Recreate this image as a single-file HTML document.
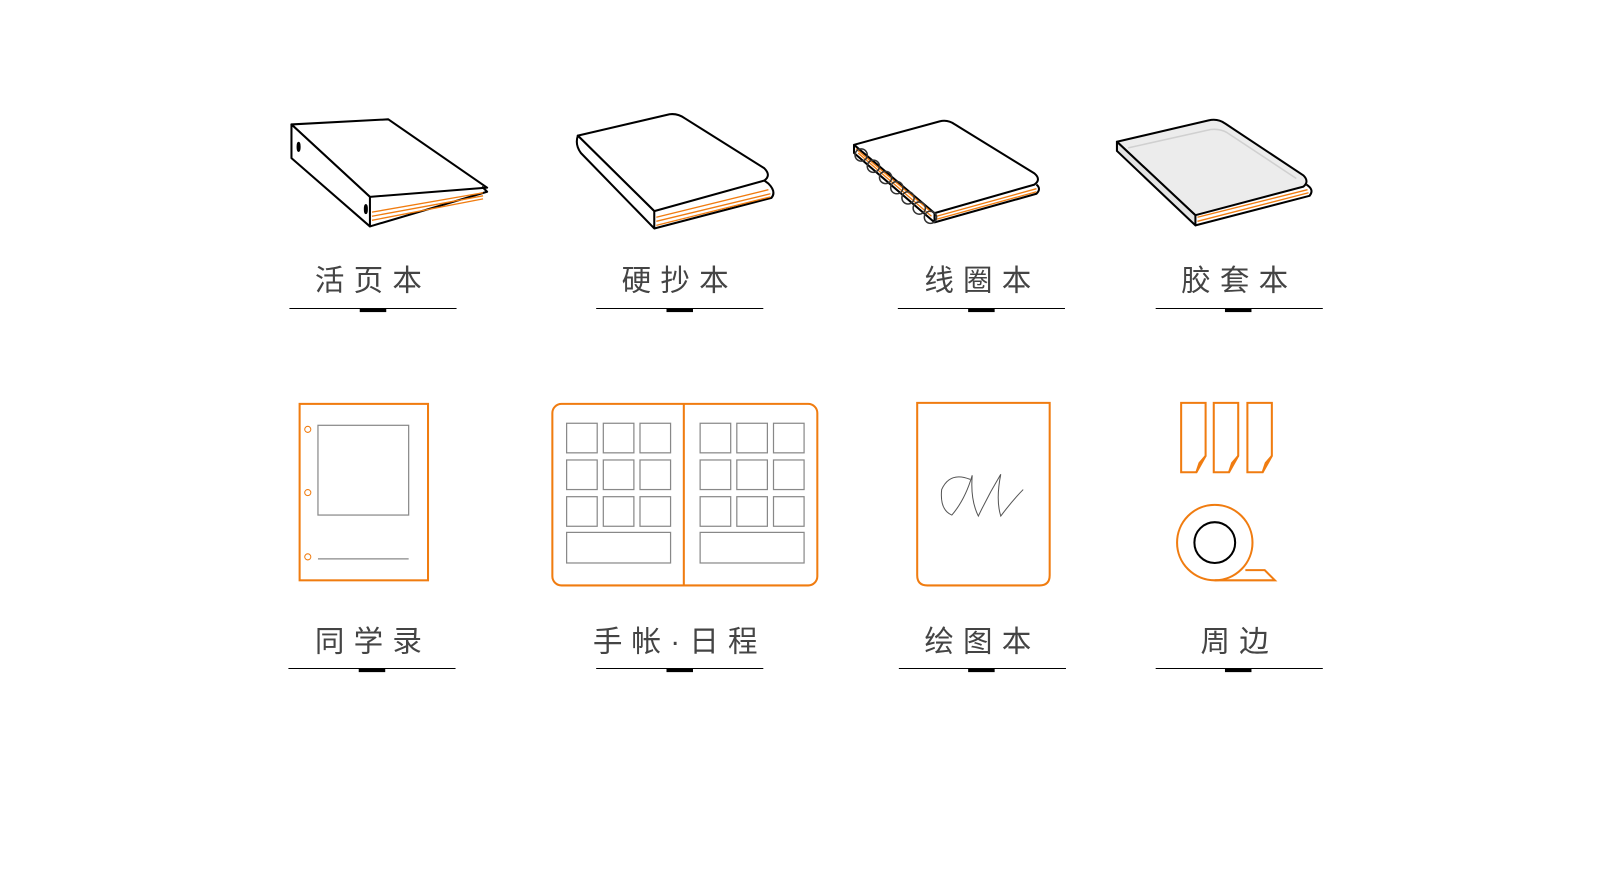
<!DOCTYPE html>
<html><head><meta charset="utf-8"><style>
body{margin:0;background:#fff;width:1600px;height:871px;overflow:hidden}
svg{position:absolute;left:0;top:0}
text{font-family:"Liberation Sans","Noto Sans CJK SC",sans-serif;font-size:29px;fill:#444;letter-spacing:9px}
</style></head><body>
<svg width="1600" height="871" viewBox="-2 0 1570 854" preserveAspectRatio="none">
<g fill="none" stroke="#000" stroke-width="2" stroke-linejoin="round">
<polygon points="284,122 379,117 476,184 361,193" fill="#fff"/>
<polygon points="284,122 361,193 361,222 284,155" fill="#fff"/>
<path d="M361,222 L476,188 L471,183"/>
<ellipse cx="291" cy="144" rx="1" ry="4" fill="#000"/>
<ellipse cx="357" cy="205" rx="1" ry="4" fill="#000"/>
<g stroke="#f07c10" stroke-width="1.3"><path d="M363,208 L472,189 M363,212 L472,192 M363,216 L472,195"/></g>
<path d="M565,133 L655,112 Q663,111 670,116 L748,165 Q755,172 748,177 L640,207 Z" fill="#fff"/>
<path d="M565,133 Q562,142 568,150 L640,224 L640,207 Z" fill="#fff"/>
<path d="M640,224 L755,194 Q760,188 752,180 L748,177"/>
<g stroke="#f07c10" stroke-width="1.3"><path d="M642,213 L752,186 M642,217 L754,190 M642,221 L754,193"/></g>
<path d="M836,142 L920,119 Q928,117 935,122 L1013,170 Q1020,176 1013,181 L915,209 Z" fill="#fff"/>
<path d="M915,209 L915,218 L1015,190 Q1020,185 1015,181"/>
<path d="M836,142 L836,150 L915,218"/>
<g stroke="#f07c10" stroke-width="1.3"><path d="M917,212 L1015,185 M917,215 L1015,188 M840,150 L912,212 M838,146 L912,208"/></g>
<g stroke="#333" stroke-width="1.5"><circle cx="843" cy="152" r="6"/><circle cx="855" cy="163" r="6"/><circle cx="867" cy="174" r="6"/><circle cx="878" cy="184" r="6"/><circle cx="889" cy="194" r="6"/><circle cx="900" cy="204" r="6"/><circle cx="911" cy="213" r="6"/></g>
<path d="M1094,139 L1184,118 Q1193,116 1200,121 L1277,172 Q1283,178 1277,183 L1171,211 Z" fill="#ececec"/>
<path d="M1094,139 L1094,148 L1171,221 L1171,211 Z" fill="#e4e4e4"/>
<path d="M1171,221 L1283,192 Q1288,186 1280,181"/>
<path d="M1105,145 L1186,127 Q1195,126 1202,130 L1270,175" stroke="#d0d0d0" stroke-width="1.5"/>
<g stroke="#f07c10" stroke-width="1.3"><path d="M1173,213 L1281,186 M1173,217 L1282,189"/></g>
</g>
<g fill="none" stroke="#f07c10" stroke-width="2">
<rect x="292" y="396" width="126" height="173"/>
<circle cx="300" cy="421" r="3" stroke-width="1"/><circle cx="300" cy="483" r="3" stroke-width="1"/><circle cx="300" cy="546" r="3" stroke-width="1"/>
<rect x="540" y="396" width="260" height="178" rx="9"/>
<line x1="669" y1="396" x2="669" y2="574"/>
<path d="M898,395 L1028,395 L1028,564 Q1028,574 1018,574 L908,574 Q898,574 898,564 Z"/>
<path d="M1157,395 h24 v52 l-9,16 h-15 Z M1189,395 h24 v52 l-9,16 h-15 Z M1222,395 h24 v52 l-9,16 h-15 Z"/>
<path d="M1172,463 l3,-9 l6,-7 M1204,463 l3,-9 l6,-7 M1237,463 l3,-9 l6,-7"/>
<circle cx="1190" cy="532" r="37"/>
<path d="M1190,569 L1249,569 L1239,559 L1220,559"/>
</g>
<g fill="none" stroke="#888" stroke-width="1.2">
<rect x="310" y="417" width="89" height="88"/>
<line x1="310" y1="548" x2="399" y2="548"/>
<rect x="554" y="415" width="30" height="29"/><rect x="590" y="415" width="30" height="29"/><rect x="626" y="415" width="30" height="29"/>
<rect x="554" y="451" width="30" height="29"/><rect x="590" y="451" width="30" height="29"/><rect x="626" y="451" width="30" height="29"/>
<rect x="554" y="487" width="30" height="29"/><rect x="590" y="487" width="30" height="29"/><rect x="626" y="487" width="30" height="29"/>
<rect x="554" y="522" width="102" height="30"/>
<rect x="685" y="415" width="30" height="29"/><rect x="721" y="415" width="30" height="29"/><rect x="757" y="415" width="30" height="29"/>
<rect x="685" y="451" width="30" height="29"/><rect x="721" y="451" width="30" height="29"/><rect x="757" y="451" width="30" height="29"/>
<rect x="685" y="487" width="30" height="29"/><rect x="721" y="487" width="30" height="29"/><rect x="757" y="487" width="30" height="29"/>
<rect x="685" y="522" width="102" height="30"/>
<path d="M950,470 Q930,462 922,480 Q920,500 932,505 Q945,490 952,466 Q950,490 958,506 Q968,485 980,465 Q975,490 980,506 Q992,490 1002,480" stroke="#555" stroke-width="1"/>
</g>
<circle cx="1190" cy="532" r="20" fill="none" stroke="#000" stroke-width="2"/>
<text x="364" y="285" text-anchor="middle">活页本</text>
<text x="665" y="285" text-anchor="middle">硬抄本</text>
<text x="962" y="285" text-anchor="middle">线圈本</text>
<text x="1214" y="285" text-anchor="middle">胶套本</text>
<text x="364" y="639" text-anchor="middle">同学录</text>
<text x="665" y="639" text-anchor="middle">手帐·日程</text>
<text x="962" y="639" text-anchor="middle">绘图本</text>
<text x="1214" y="639" text-anchor="middle">周边</text>
<g stroke="#000" stroke-width="1">
<line x1="282" y1="302.5" x2="446" y2="302.5"/><line x1="583" y1="302.5" x2="747" y2="302.5"/><line x1="879" y1="302.5" x2="1043" y2="302.5"/><line x1="1132" y1="302.5" x2="1296" y2="302.5"/>
<line x1="281" y1="655.5" x2="445" y2="655.5"/><line x1="583" y1="655.5" x2="747" y2="655.5"/><line x1="880" y1="655.5" x2="1044" y2="655.5"/><line x1="1132" y1="655.5" x2="1296" y2="655.5"/>
</g>
<g fill="#000">
<rect x="351" y="302" width="26" height="4"/><rect x="652" y="302" width="26" height="4"/><rect x="948" y="302" width="26" height="4"/><rect x="1200" y="302" width="26" height="4"/>
<rect x="350" y="655" width="26" height="4"/><rect x="652" y="655" width="26" height="4"/><rect x="948" y="655" width="26" height="4"/><rect x="1200" y="655" width="26" height="4"/>
</g>
</svg>
</body></html>
